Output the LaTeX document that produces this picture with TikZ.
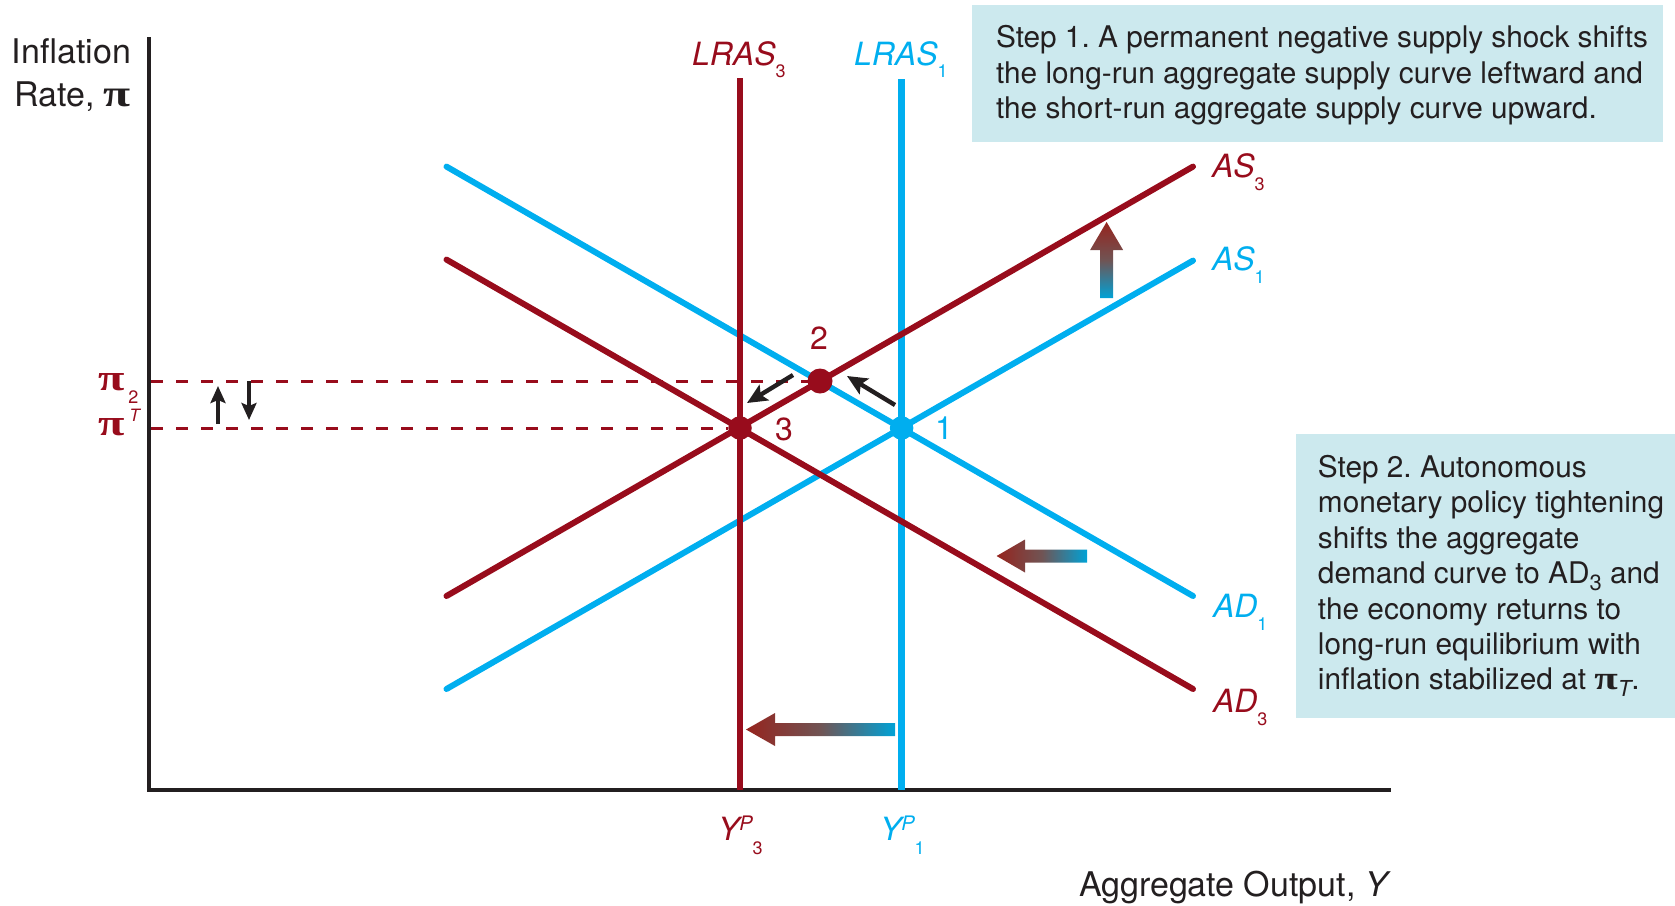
\documentclass[tikz,border=0pt]{standalone}
\usepackage{fontspec}
\setmainfont{TeX Gyre Heros}
\newfontfamily\pifont{Liberation Serif}
\usetikzlibrary{arrows.meta}
\definecolor{cblue}{RGB}{0,174,239}
\definecolor{cred}{RGB}{152,12,28}
\definecolor{boxfill}{RGB}{204,233,238}
\definecolor{txt}{RGB}{35,31,32}
\definecolor{gred}{RGB}{150,36,30}
\definecolor{gmid}{RGB}{112,84,84}
\definecolor{gblue}{RGB}{0,162,214}
\newcommand\subfont{\fontsize{9}{9}\selectfont}
\newcommand\labfont{\fontsize{16}{16}\selectfont}
\newcommand\mypi[1]{\scalebox{1.3}[1]{\pifont\bfseries\fontsize{#1}{#1}\selectfont π}}
\begin{document}
\frenchspacing
\begin{tikzpicture}[x=0.5pt,y=-0.5pt,
  every node/.style={inner sep=0pt,outer sep=0pt},
  curveb/.style={cblue,line width=3pt,line cap=round},
  curver/.style={cred,line width=3pt,line cap=round},
  lrasb/.style={cblue,line width=3.3pt},
  lrasr/.style={cred,line width=3.3pt},
  axisline/.style={txt,line width=1.6pt},
  dashline/.style={cred,line width=1.5pt,dash pattern=on 6pt off 6.5pt},
  dotr/.style={circle,fill=cred,minimum size=11.75pt},
  dotb/.style={circle,fill=cblue,minimum size=11.75pt},
  smallarrow/.style={txt,line width=2.2pt,-{Stealth[length=10pt,width=9pt,inset=2pt]}},
  tinyarrow/.style={txt,line width=2pt,-{Stealth[length=8.5pt,width=7.5pt,inset=1.5pt]}},
  stepbox/.style={fill=boxfill},
  steptext/.style={text=txt,align=left,font=\fontsize{14.9}{17.7}\selectfont},
  redlab/.style={cred,font=\labfont},
  bluelab/.style={cblue,font=\labfont},
  axlab/.style={txt,font=\fontsize{17}{21.5}\selectfont}
]
\useasboundingbox (0,0) rectangle (1675,905);

% axes
\coordinate (ytop) at (149,37);
\coordinate (origin) at (149,790);
\coordinate (xend) at (1391,790);
\draw[axisline] (ytop) -- (origin) -- (xend);

\node[axlab,align=right,anchor=north east] (ylab) at (131,39)
  {Inflation\\Rate, \mypi{19}};
\node[axlab,anchor=base east] (xlab) at (1391,896)
  {Aggregate Output, \textit{Y}};

% text boxes
\node[stepbox,minimum width=345.5pt,minimum height=68.5pt] (step1box) at (1317.5,73.5) {};
\node[steptext] (step1) at (1322,75.5)
  {Step 1. A permanent negative supply shock shifts\\
   the long-run aggregate supply curve leftward and\\
   the short-run aggregate supply curve upward.};
\node[stepbox,minimum width=189.5pt,minimum height=142pt] (step2box) at (1485.5,576) {};
\node[steptext] (step2) at (1491,576)
  {Step 2. Autonomous\\
   monetary policy tightening\\
   shifts the aggregate\\
   demand curve to AD\raisebox{-3.5pt}{\fontsize{11}{10}\selectfont 3} and\\
   the economy returns to\\
   long-run equilibrium with\\
   inflation stabilized at \mypi{16.5}\raisebox{-3.5pt}{\fontsize{11}{10}\selectfont\itshape T}.};

% curve end points
\coordinate (ad1a) at (446.5,166.6);
\coordinate (ad1b) at (1193,596);
\coordinate (ad3a) at (446.5,259.6);
\coordinate (ad3b) at (1193,689);
\coordinate (as1a) at (446.5,689);
\coordinate (as1b) at (1193,260.6);
\coordinate (as3a) at (446.5,596);
\coordinate (as3b) at (1193,166.6);
\coordinate (lr1top) at (901.6,79);
\coordinate (lr1bot) at (901.6,790);
\coordinate (lr3top) at (740,78);
\coordinate (lr3bot) at (740,790);

% blue curves
\draw[curveb] (ad1a) -- (ad1b);
\draw[curveb] (as1a) -- (as1b);
\draw[lrasb] (lr1top) -- (lr1bot);
% red curves
\draw[curver] (ad3a) -- (ad3b);
\draw[curver] (as3a) -- (as3b);
\draw[lrasr] (lr3top) -- (lr3bot);

% equilibrium points
\node[dotb] (p1) at (901.6,428) {};
\node[dotr,minimum size=12.5pt] (p2) at (820,381) {};
\node[dotr] (p3) at (740,428) {};

% dashed lines
\coordinate (pi2ax) at (151,381);
\coordinate (piTax) at (151,428);
\draw[dashline] (pi2ax) -- (p2);
\draw[dashline] (piTax) -- (p3);

% pi labels
\node[cred,anchor=base west] (pi2) at (98,390)
  {\mypi{18.5}\hspace{2pt}\raisebox{-6.5pt}{\subfont 2}};
\node[cred,anchor=base west] (piT) at (98,435)
  {\mypi{18.5}\hspace{2.5pt}\raisebox{7pt}{\fontsize{8.5}{8.5}\selectfont\itshape T}};

% small arrows near pi
\coordinate (ua1) at (218,424);
\coordinate (ua2) at (218,386);
\coordinate (da1) at (249,381);
\coordinate (da2) at (249,420);
\draw[tinyarrow] (ua1) -- (ua2);
\draw[tinyarrow] (da1) -- (da2);

% small arrows near point 2
\coordinate (sa1) at (895,405);
\coordinate (sa2) at (847,376);
\coordinate (sb1) at (793,375);
\coordinate (sb2) at (747,403);
\draw[smallarrow] (sa1) -- (sa2);
\draw[smallarrow] (sb1) -- (sb2);

% point labels
\node[redlab] (l2) at (819,338) {2};
\node[redlab] (l3) at (784,429) {3};
\node[bluelab] (l1) at (944,428) {1};

% curve labels
\node[redlab,anchor=base west] (lLR3) at (692,65)
  {\textit{LRAS}\raisebox{-6pt}{\fontsize{9}{9}\selectfont 3}};
\node[bluelab,anchor=base west] (lLR1) at (854,65)
  {\textit{LRAS}\raisebox{-6pt}{\fontsize{9}{9}\selectfont 1}};
\node[redlab,anchor=base west] (lAS3) at (1212,177)
  {\textit{AS}\raisebox{-6.5pt}{\subfont 3}};
\node[bluelab,anchor=base west] (lAS1) at (1212,270)
  {\textit{AS}\raisebox{-6.5pt}{\subfont 1}};
\node[bluelab,anchor=base west] (lAD1) at (1213,617)
  {\textit{AD}\raisebox{-6.5pt}{\subfont 1}};
\node[redlab,anchor=base west] (lAD3) at (1213,712)
  {\textit{AD}\raisebox{-6.5pt}{\subfont 3}};

% potential output labels
\node[redlab,anchor=base west] (y3) at (718,840)
  {\textit{Y\raisebox{5pt}{\fontsize{10}{10}\selectfont P}}\raisebox{-7pt}{\subfont 3}};
\node[bluelab,anchor=base west] (y1) at (880,840)
  {\textit{Y\raisebox{5pt}{\fontsize{10}{10}\selectfont P}}\raisebox{-7pt}{\subfont 1}};

% gradient shift arrows
\shade[top color=gred,bottom color=gblue,middle color=gmid]
  (1100.1,298) -- (1100.1,250) -- (1090.1,250) -- (1106.6,222)
  -- (1123.1,250) -- (1113.1,250) -- (1113.1,298) -- cycle;
\shade[left color=gred,right color=gblue,middle color=gmid]
  (1087,549.5) -- (1025,549.5) -- (1025,539.5) -- (996.6,556)
  -- (1025,572.5) -- (1025,562.5) -- (1087,562.5) -- cycle;
\shade[left color=gred,right color=gblue,middle color=gmid]
  (895,723) -- (775,723) -- (775,713) -- (746,729.5)
  -- (775,746) -- (775,736) -- (895,736) -- cycle;
\end{tikzpicture}
\end{document}
